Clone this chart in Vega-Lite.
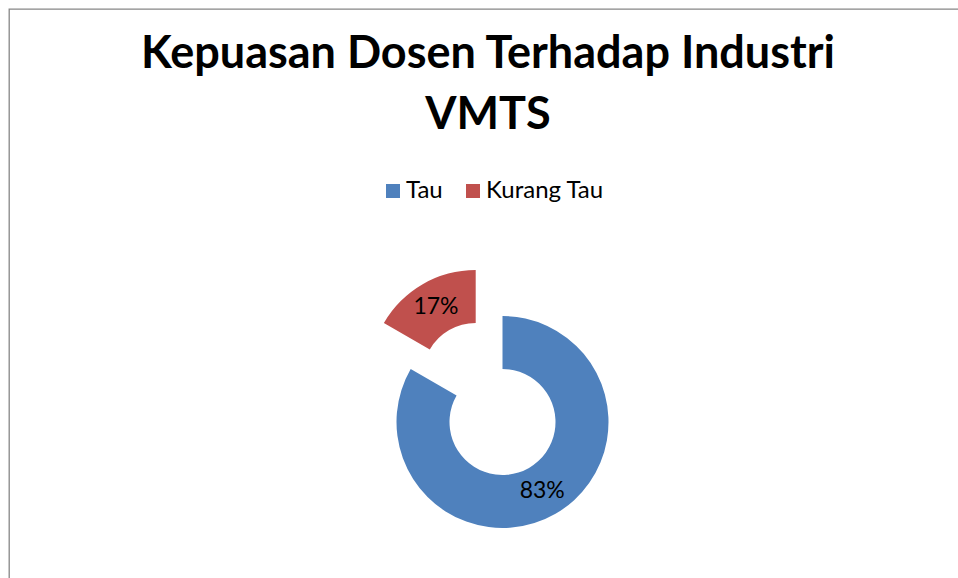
{
  "$schema": "https://vega.github.io/schema/vega-lite/v6.json",
  "width": 962,
  "height": 582,
  "autosize": "none",
  "padding": {"left": 9, "top": 9, "right": 0, "bottom": 0},
  "background": "white",
  "view": {"stroke": "#868686", "strokeWidth": 1.3},
  "title": {
    "text": ["Kepuasan Dosen Terhadap Industri", "VMTS"],
    "font": "Lato",
    "fontSize": 45,
    "fontWeight": "bold",
    "color": "#000000",
    "lineHeight": 61,
    "anchor": "middle",
    "baseline": "alphabetic",
    "offset": -165,
    "dx": -2
  },
  "data": {
    "values": [
      {"kategori": "Tau", "nilai": 0.8333},
      {"kategori": "Kurang Tau", "nilai": 0.1667}
    ]
  },
  "layer": [
    {
      "mark": {"type": "arc", "x": 493.5, "y": 413, "radius": 106, "innerRadius": 53},
      "encoding": {
        "theta": {"field": "nilai", "type": "quantitative", "stack": true},
        "order": {"field": "nilai", "sort": "descending"},
        "color": {
          "field": "kategori",
          "type": "nominal",
          "scale": {"domain": ["Tau", "Kurang Tau"], "range": ["#4F81BD", "#C0504D"]},
          "legend": {
            "title": null,
            "orient": "none",
            "direction": "horizontal",
            "legendX": 372,
            "legendY": 170,
            "padding": 0,
            "symbolType": "square",
            "symbolSize": 196,
            "symbolStrokeWidth": 0,
            "symbolOpacity": 1,
            "labelFont": "Lato",
            "labelFontSize": 24,
            "labelColor": "#000000",
            "labelOffset": 1,
            "columnPadding": 18
          }
        },
        "opacity": {"condition": {"test": "datum.kategori === 'Tau'", "value": 1}, "value": 0}
      }
    },
    {
      "mark": {"type": "arc", "x": 466.7, "y": 367, "radius": 106, "innerRadius": 53},
      "encoding": {
        "theta": {"field": "nilai", "type": "quantitative", "stack": true},
        "order": {"field": "nilai", "sort": "descending"},
        "color": {"field": "kategori", "type": "nominal"},
        "opacity": {"condition": {"test": "datum.kategori === 'Kurang Tau'", "value": 1}, "value": 0}
      }
    },
    {
      "mark": {"type": "text", "x": 493.5, "y": 413, "radius": 79.5, "font": "Lato", "fontSize": 23, "color": "#000000"},
      "encoding": {
        "theta": {"field": "nilai", "type": "quantitative", "stack": true},
        "order": {"field": "nilai", "sort": "descending"},
        "detail": {"field": "kategori", "type": "nominal"},
        "text": {"field": "nilai", "type": "quantitative", "format": ".0%"},
        "opacity": {"condition": {"test": "datum.kategori === 'Tau'", "value": 1}, "value": 0}
      }
    },
    {
      "mark": {"type": "text", "x": 466.7, "y": 367, "radius": 79.5, "font": "Lato", "fontSize": 23, "color": "#000000"},
      "encoding": {
        "theta": {"field": "nilai", "type": "quantitative", "stack": true},
        "order": {"field": "nilai", "sort": "descending"},
        "detail": {"field": "kategori", "type": "nominal"},
        "text": {"field": "nilai", "type": "quantitative", "format": ".0%"},
        "opacity": {"condition": {"test": "datum.kategori === 'Kurang Tau'", "value": 1}, "value": 0}
      }
    }
  ]
}
